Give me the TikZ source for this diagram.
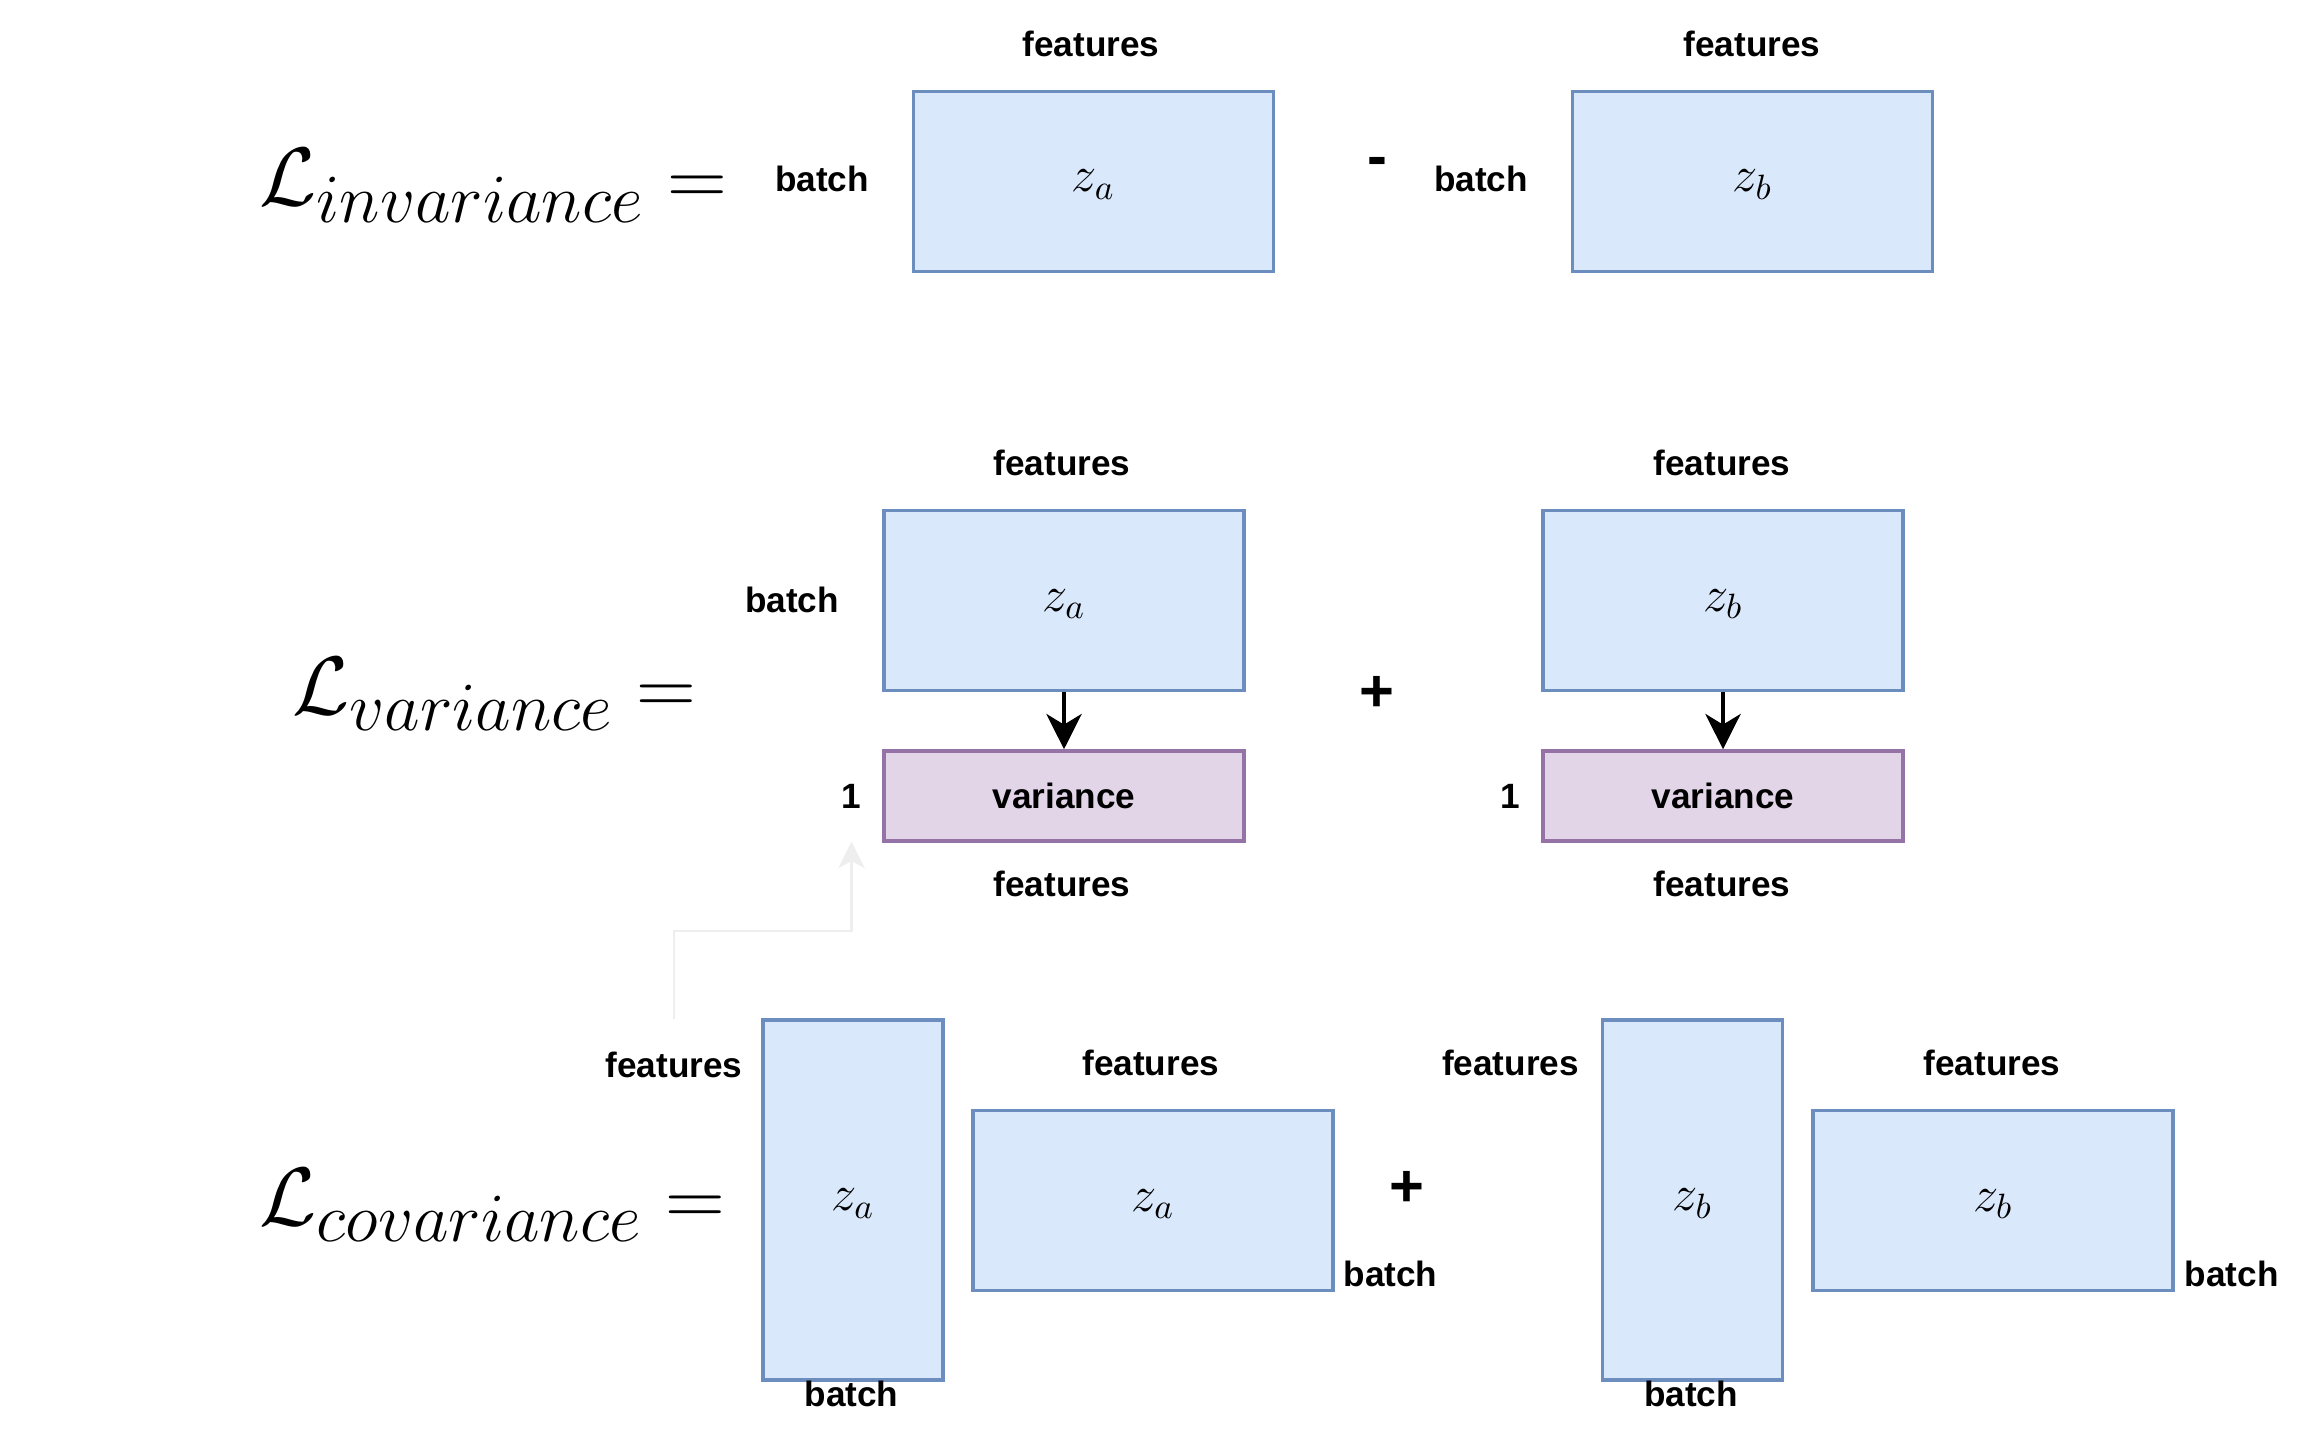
\documentclass[tikz,border=0pt]{standalone}
\usepackage[no-math]{fontspec}
\usepackage{graphicx}
\setmainfont{Liberation Sans}
\usetikzlibrary{arrows.meta}
\definecolor{bluefill}{HTML}{DAE8FC}
\definecolor{bluedraw}{HTML}{6C8EBF}
\definecolor{purfill}{HTML}{E1D5E7}
\definecolor{purdraw}{HTML}{9673A6}
\definecolor{faint}{HTML}{EEEEEE}
\newcommand{\bigformula}[1]{\scalebox{0.947}{$#1$}}
\tikzset{
  lab/.style={font=\fontsize{10}{12}\selectfont\bfseries, inner sep=0pt, minimum height=0.9cm},
  op/.style={font=\fontsize{17}{20}\selectfont\bfseries, inner sep=0pt},
  zbox/.style={draw=bluedraw, fill=bluefill, line width=1pt, inner sep=0pt,
    font=\fontsize{14.4}{17}\selectfont, text height=6pt, text depth=0pt},
  wide/.style={zbox, minimum width=3.6cm, minimum height=1.8cm},
  tall/.style={zbox, minimum width=1.8cm, minimum height=3.6cm},
  varbox/.style={draw=purdraw, fill=purfill, line width=1pt, inner sep=0pt,
    minimum width=3.6cm, minimum height=0.9cm, font=\fontsize{10}{12}\selectfont\bfseries},
  formula/.style={font=\fontsize{24.88}{30}\selectfont, inner sep=0pt, anchor=base west},
  arr/.style={line width=1.3pt, -{Stealth[length=10pt,width=10pt,inset=3pt]}},
  grayarr/.style={draw=faint, line width=0.7pt, -{Stealth[length=7.5pt,width=7.5pt,inset=2pt]}}
}
\begin{document}
\begin{tikzpicture}[x=0.01cm,y=-0.01cm]
\useasboundingbox[fill=white] (0,0) rectangle (2322,1440);
% Row 1: invariance
\node[formula] (Linv) at (259,206) {\bigformula{\mathcal{L}_{invariance} =}};
\node[lab] (b1a) at (822,179) {batch};
\node[wide] (za1) at (1093.6,181.4) {$z_a$};
\node[lab] (f1a) at (1091,44) {features};
\node[op] (minus) at (1377,167) {-};
\node[lab] (b1b) at (1481,179) {batch};
\node[wide] (zb1) at (1752.6,181.4) {$z_b$};
\node[lab] (f1b) at (1752,44) {features};
% Row 2: variance
\node[formula] (Lvar) at (292,714) {\bigformula{\mathcal{L}_{variance} =}};
\node[lab] (f2a) at (1062,463) {features};
\node[lab] (b2a) at (792,600) {batch};
\node[wide] (za2) at (1064,600.5) {$z_a$};
\node[varbox] (va) at (1064,796) {variance};
\node[lab] (one1) at (851.5,796) {1};
\node[lab] (f2a2) at (1062,884) {features};
\node[op] (plus2) at (1377,694) {+};
\node[lab] (f2b) at (1722,463) {features};
\node[wide] (zb2) at (1723,600.5) {$z_b$};
\node[varbox] (vb) at (1723,796) {variance};
\node[lab] (one2) at (1510.5,796) {1};
\node[lab] (f2b2) at (1722,884) {features};
\draw[arr] (za2) -- (va);
\draw[arr] (zb2) -- (vb);
% Row 3: covariance
\node[formula] (Lcov) at (259,1225) {\bigformula{\mathcal{L}_{covariance} =}};
\node[lab] (f3a) at (674,1065) {features};
\node[tall] (za3t) at (853,1200) {$z_a$};
\node[lab] (b3a) at (851.5,1393.5) {batch};
\node[lab] (f3a2) at (1150.7,1063) {features};
\node[wide] (za3w) at (1153,1200.5) {$z_a$};
\node[lab] (b3a2) at (1390.5,1273.6) {batch};
\node[op] (plus3) at (1407,1189) {+};
\node[lab] (f3b) at (1510.5,1063) {features};
\node[tall] (zb3t) at (1692.5,1200) {$z_b$};
\node[lab] (b3b) at (1691,1393.5) {batch};
\node[lab] (f3b2) at (1992,1063) {features};
\node[wide] (zb3w) at (1993,1200.5) {$z_b$};
\node[lab] (b3b2) at (2231.7,1273.6) {batch};
% faint connector
\coordinate (bend) at (851.5,931);
\draw[grayarr] (f3a.north) |- (bend) -- (one1.south);
\end{tikzpicture}
\end{document}
